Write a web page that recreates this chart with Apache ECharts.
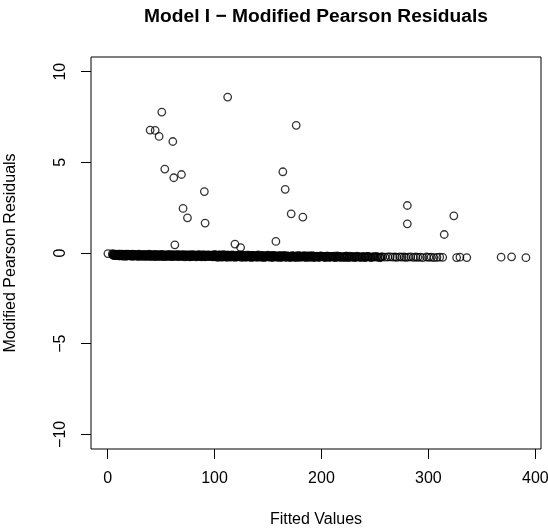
<!DOCTYPE html>
<html>
<head>
<meta charset="utf-8">
<script src="https://cdn.jsdelivr.net/npm/echarts@6/dist/echarts.min.js"></script>
<style>
html,body{margin:0;padding:0;background:#fff;}
#chart{width:548px;height:529px;}
</style>
</head>
<body>
<div id="chart"></div>
<script>
// ---- data ----
const xTicks = [0, 100, 200, 300, 400];
const yTicks = [-10, -5, 0, 5, 10];

// large residuals
const fittedHigh = [112.3, 50.7, 39.8, 44.5, 48.2, 61.0, 176.4, 53.5, 61.9, 69.1, 90.5, 70.6, 74.7, 91.2, 62.9, 119.1, 124.4, 157.4, 163.9, 166.1, 171.7, 182.6, 280.3, 280.3, 323.8, 314.8, 0.3];
const residHigh  = [8.60, 7.77, 6.78, 6.76, 6.43, 6.15, 7.04, 4.63, 4.15, 4.33, 3.39, 2.46, 1.94, 1.65, 0.45, 0.49, 0.30, 0.64, 4.48, 3.51, 2.16, 1.98, 2.62, 1.61, 2.05, 1.02, -0.03];

// near-zero band (first set)
const fittedBand = [
  4.5, 5.3, 6.0, 6.8, 7.5, 8.4, 9.1, 10.0, 10.8, 11.6,
  12.5, 13.3, 14.1, 15.0, 15.9, 16.7, 17.4, 18.3, 19.2, 20.0,
  20.9, 21.7, 22.6, 23.4, 24.3, 25.1, 26.0, 26.9, 27.7, 28.6,
  29.4, 30.3, 31.2, 32.0, 32.9, 33.8, 34.6, 35.5, 36.4, 37.2,
  38.1, 39.0, 39.9, 40.7, 41.6, 42.5, 43.4, 44.2, 45.1, 46.0,
  46.9, 47.8, 48.6, 49.5, 50.4, 51.3, 52.2, 53.1, 54.0, 54.9,
  55.8, 56.7, 57.6, 58.5, 59.4, 60.3, 61.2, 62.1, 63.0, 64.0,
  64.9, 65.8, 66.7, 67.7, 68.6, 69.5, 70.5, 71.4, 72.4, 73.3,
  74.3, 75.2, 76.2, 77.1, 78.1, 79.1, 80.0, 81.0, 82.0, 83.0,
  84.0, 85.0, 86.0, 87.0, 88.0, 89.0, 90.1, 91.1, 92.1, 93.2,
  94.2, 95.3, 96.3, 97.4, 98.5, 99.5, 100.6, 101.7, 102.8, 103.9,
  105.0, 106.2, 107.3, 108.4, 109.6, 110.7, 111.9, 113.1, 114.2, 115.4,
  116.6, 117.8, 119.0, 120.3, 121.5, 122.7, 124.0, 125.3, 126.5, 127.8,
  129.1, 130.4, 131.8, 133.1, 134.4, 135.8, 137.2, 138.6, 140.0, 141.4,
  142.8, 144.3, 145.7, 147.2, 148.7, 150.2, 151.7, 153.3, 154.8, 156.4,
  158.0, 159.6, 161.2, 162.9, 164.5, 166.2, 167.9, 169.6, 171.4, 173.1,
  174.9, 176.7, 178.5, 180.4, 182.2, 184.1, 186.0, 188.0, 189.9, 191.9,
  193.9, 196.0, 198.0, 200.1, 202.3, 204.4, 206.6, 208.8, 211.0, 213.3,
  215.6, 217.9, 220.3, 222.7, 225.1, 227.6, 230.1, 232.6, 235.2, 237.8,
  240.5, 243.2, 245.9, 248.7, 251.5, 254.4, 257.0, 259.4, 262.1, 264.3,
  266.8, 268.9, 270.6, 273.2, 275.1, 277.4, 279.0, 281.3, 283.5, 286.0,
  288.2, 290.1, 292.4, 294.8, 298.3, 300.4, 302.6, 305.1, 308.0, 310.6,
  313.4, 326.4, 329.5, 335.9, 368.0, 377.8, 391.2
];
const residBand = [
  -0.04, -0.10, -0.06, -0.13, -0.07, -0.15, -0.08, -0.11, -0.16, -0.06,
  -0.13, -0.07, -0.17, -0.09, -0.14, -0.06, -0.18, -0.11, -0.07, -0.15,
  -0.08, -0.17, -0.12, -0.06, -0.18, -0.13, -0.08, -0.16, -0.10, -0.19,
  -0.07, -0.14, -0.18, -0.09, -0.16, -0.11, -0.19, -0.13, -0.08, -0.17,
  -0.12, -0.07, -0.19, -0.15, -0.09, -0.17, -0.12, -0.20, -0.08, -0.15,
  -0.10, -0.18, -0.12, -0.19, -0.08, -0.15, -0.20, -0.10, -0.17, -0.12,
  -0.19, -0.12, -0.08, -0.17, -0.14, -0.20, -0.09, -0.15, -0.19, -0.11,
  -0.17, -0.09, -0.20, -0.14, -0.11, -0.19, -0.16, -0.09, -0.21, -0.13,
  -0.11, -0.19, -0.13, -0.21, -0.09, -0.17, -0.11, -0.19, -0.13, -0.21,
  -0.12, -0.09, -0.19, -0.15, -0.21, -0.10, -0.16, -0.21, -0.12, -0.18,
  -0.10, -0.20, -0.15, -0.12, -0.21, -0.17, -0.10, -0.15, -0.20, -0.12,
  -0.17, -0.12, -0.21, -0.15, -0.10, -0.20, -0.17, -0.12, -0.21, -0.14,
  -0.19, -0.12, -0.17, -0.21, -0.14, -0.19, -0.12, -0.17, -0.22, -0.14,
  -0.16, -0.21, -0.12, -0.19, -0.14, -0.22, -0.16, -0.19, -0.13, -0.21,
  -0.18, -0.14, -0.22, -0.16, -0.20, -0.18, -0.14, -0.22, -0.16, -0.20,
  -0.16, -0.22, -0.18, -0.14, -0.20, -0.23, -0.16, -0.20, -0.17, -0.22,
  -0.19, -0.16, -0.22, -0.17, -0.23, -0.19, -0.16, -0.22, -0.17, -0.23,
  -0.21, -0.17, -0.23, -0.19, -0.21, -0.17, -0.23, -0.19, -0.21, -0.24,
  -0.19, -0.23, -0.21, -0.18, -0.24, -0.21, -0.19, -0.23, -0.21, -0.24,
  -0.22, -0.19, -0.24, -0.21, -0.22, -0.24, -0.21, -0.23, -0.22, -0.21,
  -0.23, -0.22, -0.24, -0.21, -0.23, -0.22, -0.24, -0.23, -0.21, -0.24,
  -0.22, -0.24, -0.23, -0.25, -0.22, -0.24, -0.23, -0.25, -0.24, -0.23,
  -0.24, -0.25, -0.23, -0.25, -0.23, -0.21, -0.26
];

// near-zero band (second set, interleaved)
const fittedBand2 = [
  4.9, 5.7, 6.4, 7.2, 7.9, 8.8, 9.6, 10.4, 11.2, 12.1,
  12.9, 13.7, 14.6, 15.5, 16.3, 17.1, 17.9, 18.8, 19.6, 20.5,
  21.3, 22.2, 23.0, 23.9, 24.7, 25.6, 26.5, 27.3, 28.2, 29.0,
  29.9, 30.8, 31.6, 32.5, 33.4, 34.2, 35.1, 36.0, 36.8, 37.7,
  38.6, 39.5, 40.3, 41.2, 42.1, 43.0, 43.8, 44.7, 45.6, 46.5,
  47.4, 48.2, 49.1, 50.0, 50.9, 51.8, 52.7, 53.6, 54.5, 55.4,
  56.3, 57.2, 58.1, 59.0, 59.9, 60.8, 61.7, 62.6, 63.5, 64.5,
  65.4, 66.3, 67.2, 68.2, 69.1, 70.0, 71.0, 71.9, 72.9, 73.8,
  74.8, 75.7, 76.7, 77.6, 78.6, 79.6, 80.5, 81.5, 82.5, 83.5,
  84.5, 85.5, 86.5, 87.5, 88.5, 89.5, 90.6, 91.6, 92.7, 93.7,
  94.8, 95.8, 96.9, 97.9, 99.0, 100.1, 101.2, 102.3, 103.4, 104.5,
  105.6, 106.8, 107.9, 109.0, 110.2, 111.3, 112.5, 113.7, 114.8, 116.0,
  117.2, 118.4, 119.7, 120.9, 122.1, 123.4, 124.6, 125.9, 127.2, 128.5,
  129.8, 131.1, 132.5, 133.8, 135.1, 136.5, 137.9, 139.3, 140.7, 142.1,
  143.5, 145.0, 146.5, 148.0, 149.5, 151.0, 152.5, 154.0, 155.6, 157.2,
  158.8, 160.4, 162.0, 163.7, 165.3, 167.0, 168.7, 170.5, 172.2, 174.0,
  175.8, 177.6, 179.4, 181.3, 183.1, 185.0, 187.0, 188.9, 190.9, 192.9,
  194.9, 197.0, 199.0, 201.2, 203.3, 205.5, 207.7, 209.9, 212.1, 214.4,
  216.7, 219.1, 221.5, 223.9, 226.3, 228.8, 231.3, 233.9, 236.5, 239.1,
  241.8, 244.5, 247.3, 250.1, 253.0, 255.8
];
const residBand2 = [
  -0.12, -0.08, -0.14, -0.09, -0.15, -0.10, -0.13, -0.07, -0.16, -0.11,
  -0.09, -0.15, -0.11, -0.17, -0.08, -0.14, -0.10, -0.16, -0.12, -0.09,
  -0.15, -0.09, -0.17, -0.12, -0.10, -0.16, -0.13, -0.09, -0.17, -0.11,
  -0.16, -0.10, -0.12, -0.17, -0.09, -0.15, -0.11, -0.18, -0.14, -0.10,
  -0.17, -0.13, -0.10, -0.18, -0.12, -0.15, -0.09, -0.17, -0.13, -0.19,
  -0.11, -0.16, -0.13, -0.09, -0.18, -0.12, -0.16, -0.10, -0.19, -0.14,
  -0.10, -0.17, -0.13, -0.19, -0.11, -0.15, -0.18, -0.12, -0.16, -0.10,
  -0.18, -0.13, -0.11, -0.17, -0.15, -0.10, -0.19, -0.14, -0.12, -0.18,
  -0.15, -0.11, -0.18, -0.13, -0.20, -0.12, -0.16, -0.10, -0.18, -0.14,
  -0.19, -0.13, -0.11, -0.18, -0.12, -0.17, -0.10, -0.19, -0.15, -0.12,
  -0.18, -0.12, -0.19, -0.16, -0.11, -0.20, -0.14, -0.18, -0.12, -0.17,
  -0.13, -0.19, -0.11, -0.18, -0.15, -0.12, -0.20, -0.16, -0.13, -0.19,
  -0.14, -0.18, -0.20, -0.13, -0.17, -0.15, -0.19, -0.12, -0.16, -0.20,
  -0.14, -0.18, -0.16, -0.20, -0.13, -0.17, -0.19, -0.14, -0.21, -0.16,
  -0.19, -0.15, -0.20, -0.17, -0.14, -0.21, -0.18, -0.15, -0.20, -0.17,
  -0.20, -0.16, -0.21, -0.18, -0.15, -0.20, -0.17, -0.22, -0.19, -0.16,
  -0.21, -0.18, -0.15, -0.20, -0.17, -0.22, -0.19, -0.16, -0.21, -0.18,
  -0.20, -0.22, -0.17, -0.19, -0.21, -0.18, -0.22, -0.20, -0.17, -0.21,
  -0.19, -0.22, -0.20, -0.23, -0.18, -0.21, -0.23, -0.20, -0.22, -0.19,
  -0.23, -0.21, -0.22, -0.20, -0.23, -0.21
];

// near-zero band (third set, middle part)
const fittedBand3 = [
  100.3, 101.4, 102.5, 103.6, 104.7, 105.9, 107.0, 108.1, 109.3, 110.4,
  111.6, 112.8, 113.9, 115.1, 116.3, 117.5, 118.7, 119.9, 121.2, 122.4,
  123.7, 124.9, 126.2, 127.5, 128.8, 130.1, 131.4, 132.8, 134.1, 135.5,
  136.8, 138.2, 139.6, 141.0, 142.4, 143.9, 145.3, 146.8, 148.3, 149.8,
  151.3, 152.8, 154.4, 155.9, 157.5, 159.1, 160.7, 162.3, 164.0, 165.6,
  167.3, 169.0, 170.8, 172.6, 174.4, 176.2, 178.0, 179.9, 181.8, 183.7,
  185.6, 187.6, 189.5, 191.5, 193.5, 195.5, 197.6, 199.6, 201.7, 203.8,
  205.9, 208.1, 210.3, 212.5, 214.7, 216.9, 219.2, 221.5, 223.8, 226.1,
  228.5, 230.9, 233.3, 235.7, 238.2, 240.8, 243.5, 246.2, 248.9, 251.7,
  254.9
];
const residBand3 = [
  -0.09, -0.22, -0.14, -0.24, -0.11, -0.19, -0.23, -0.10, -0.21, -0.16,
  -0.24, -0.12, -0.20, -0.23, -0.10, -0.18, -0.24, -0.13, -0.22, -0.16,
  -0.11, -0.24, -0.19, -0.14, -0.24, -0.12, -0.21, -0.17, -0.25, -0.13,
  -0.22, -0.15, -0.24, -0.11, -0.20, -0.24, -0.14, -0.25, -0.18, -0.12,
  -0.23, -0.16, -0.25, -0.13, -0.21, -0.24, -0.15, -0.25, -0.19, -0.14,
  -0.24, -0.17, -0.25, -0.14, -0.22, -0.25, -0.16, -0.24, -0.19, -0.15,
  -0.25, -0.18, -0.24, -0.15, -0.25, -0.20, -0.24, -0.16, -0.23, -0.25,
  -0.17, -0.24, -0.20, -0.25, -0.16, -0.24, -0.21, -0.25, -0.18, -0.24,
  -0.22, -0.25, -0.18, -0.24, -0.21, -0.25, -0.19, -0.24, -0.23, -0.20,
  -0.25
];

const titleText = 'Model I \u2212 Modified Pearson Residuals';
const xName = 'Fitted Values';
const yName = 'Modified Pearson Residuals';

// ---- build ----
function zip(a, b) {
  const n = Math.min(a.length, b.length);
  const out = [];
  for (let i = 0; i < n; i++) out.push([a[i], b[i]]);
  return out;
}
const allPoints = zip(fittedBand, residBand)
  .concat(zip(fittedBand2, residBand2))
  .concat(zip(fittedBand3, residBand3))
  .concat(zip(fittedHigh, residHigh));

const FONT = '"Liberation Sans", Arial, Helvetica, sans-serif';
const chart = echarts.init(document.getElementById('chart'), null, {renderer: 'canvas'});
chart.setOption({
  animation: false,
  backgroundColor: '#ffffff',
  title: {
    text: titleText,
    left: 311,
    top: 2,
    textAlign: 'center',
    textStyle: {fontFamily: FONT, fontSize: 19.2, fontWeight: 'bold', color: '#000'}
  },
  grid: {
    left: 91, right: 7, top: 57, bottom: 80,
    outerBoundsMode: 'none',
    containLabel: false,
    show: true, borderColor: '#000', borderWidth: 1, backgroundColor: 'transparent'
  },
  xAxis: {
    type: 'value',
    min: -15.5, max: 405.3,
    axisLine: {show: false, onZero: false},
    splitLine: {show: false},
    axisTick: {show: true, customValues: xTicks, length: 10, lineStyle: {color: '#000', width: 1}},
    axisLabel: {show: true, customValues: xTicks, fontFamily: FONT, fontSize: 16, color: '#000', margin: 22, showMinLabel: true, showMaxLabel: true},
    name: xName,
    nameLocation: 'middle',
    nameGap: 63,
    nameTextStyle: {fontFamily: FONT, fontSize: 16, color: '#000'}
  },
  yAxis: {
    type: 'value',
    min: -10.81, max: 10.81,
    axisLine: {show: false, onZero: false},
    splitLine: {show: false},
    axisTick: {show: true, customValues: yTicks, length: 10, lineStyle: {color: '#000', width: 1}},
    axisLabel: {show: true, customValues: yTicks, rotate: 90, fontFamily: FONT, fontSize: 16, color: '#000', margin: 22,
      formatter: v => (v < 0 ? '\u2212' + Math.abs(v) : String(v))},
    name: yName,
    nameLocation: 'middle',
    nameRotate: 90,
    nameGap: 72,
    nameTextStyle: {fontFamily: FONT, fontSize: 16, color: '#000'}
  },
  series: [{
    type: 'scatter',
    data: allPoints,
    symbol: 'circle',
    symbolSize: 7.5,
    large: false,
    progressive: 0,
    itemStyle: {color: 'rgba(0,0,0,0)', borderColor: '#000', borderWidth: 1.3},
    emphasis: {disabled: true},
    silent: true
  }]
});
</script>
</body>
</html>
